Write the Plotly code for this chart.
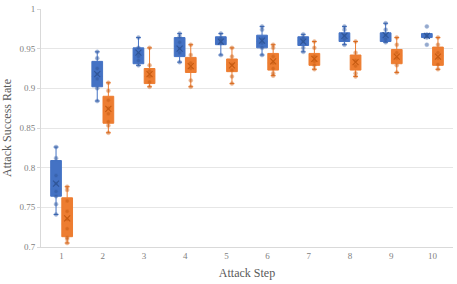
import plotly.graph_objects as go

steps = [1, 2, 3, 4, 5, 6, 7, 8, 9, 10]
tick_vals = [0.7, 0.75, 0.8, 0.85, 0.9, 0.95, 1.0]
tick_text = ["0.7", "0.75", "0.8", "0.85", "0.9", "0.95", "1"]

blue_q1 = [0.764, 0.902, 0.931, 0.940, 0.955, 0.951, 0.954, 0.959, 0.959, 0.964]
blue_median = [0.773, 0.915, 0.942, 0.953, 0.960, 0.959, 0.960, 0.965, 0.965, 0.966]
blue_q3 = [0.809, 0.934, 0.951, 0.964, 0.965, 0.967, 0.965, 0.970, 0.970, 0.969]
blue_low = [0.741, 0.884, 0.929, 0.933, 0.942, 0.942, 0.946, 0.955, 0.958, 0.964]
blue_high = [0.826, 0.946, 0.964, 0.969, 0.969, 0.978, 0.968, 0.978, 0.982, 0.969]
blue_mean = [0.780, 0.918, 0.945, 0.950, 0.959, 0.960, 0.959, 0.966, 0.967, 0.966]
blue_points = [
    [0.826, 0.812, 0.790, 0.780, 0.770, 0.764, 0.754, 0.741],
    [0.946, 0.938, 0.925, 0.918, 0.912, 0.900, 0.884],
    [0.964, 0.951, 0.944, 0.940, 0.935, 0.929],
    [0.969, 0.965, 0.958, 0.950, 0.945, 0.933],
    [0.969, 0.963, 0.960, 0.957, 0.942],
    [0.978, 0.974, 0.962, 0.957, 0.951, 0.942],
    [0.968, 0.963, 0.959, 0.951, 0.946],
    [0.978, 0.974, 0.967, 0.962, 0.955],
    [0.982, 0.974, 0.967, 0.962, 0.958],
    [0.978, 0.968, 0.966, 0.964, 0.955],
]

orange_q1 = [0.713, 0.856, 0.906, 0.920, 0.921, 0.923, 0.929, 0.923, 0.931, 0.929]
orange_median = [0.729, 0.872, 0.915, 0.926, 0.930, 0.932, 0.936, 0.932, 0.941, 0.941]
orange_q3 = [0.762, 0.890, 0.925, 0.939, 0.937, 0.944, 0.944, 0.942, 0.949, 0.952]
orange_low = [0.705, 0.844, 0.902, 0.902, 0.906, 0.916, 0.924, 0.915, 0.920, 0.924]
orange_high = [0.776, 0.907, 0.951, 0.955, 0.951, 0.955, 0.959, 0.959, 0.964, 0.964]
orange_mean = [0.736, 0.874, 0.918, 0.928, 0.929, 0.934, 0.937, 0.933, 0.940, 0.940]
orange_points = [
    [0.776, 0.772, 0.758, 0.745, 0.735, 0.723, 0.712, 0.710, 0.705],
    [0.907, 0.897, 0.885, 0.875, 0.868, 0.858, 0.853, 0.844],
    [0.951, 0.929, 0.922, 0.915, 0.908, 0.902],
    [0.955, 0.942, 0.932, 0.925, 0.910, 0.902],
    [0.951, 0.940, 0.930, 0.923, 0.915, 0.906],
    [0.955, 0.951, 0.940, 0.932, 0.925, 0.919, 0.916],
    [0.959, 0.951, 0.940, 0.934, 0.929, 0.924],
    [0.959, 0.945, 0.935, 0.928, 0.919, 0.915],
    [0.964, 0.955, 0.945, 0.938, 0.929, 0.920],
    [0.964, 0.955, 0.945, 0.938, 0.930, 0.924],
]

OFFSET = 0.135
BOXW = 0.26
series = [
    ("blue", -OFFSET, "#4472C4", "#2F5597", blue_q1, blue_median, blue_q3, blue_low, blue_high, blue_mean, blue_points),
    ("orange", OFFSET, "#ED7D31", "#C55A11", orange_q1, orange_median, orange_q3, orange_low, orange_high, orange_mean, orange_points),
]

fig = go.Figure()
for name, off, col, dark, q1, med, q3, lo, hi, mean, pts in series:
    xs = [s + off for s in steps]
    fig.add_trace(go.Box(
        x=xs, q1=q1, median=med, q3=q3, lowerfence=lo, upperfence=hi,
        width=BOXW, fillcolor=col, line=dict(color=col, width=1),
        whiskerwidth=0.45, boxpoints=False, showlegend=False, name=name,
    ))
    px, py = [], []
    for s, p in zip(steps, pts):
        px += [s + off] * len(p)
        py += p
    fig.add_trace(go.Scatter(
        x=px, y=py, mode="markers", showlegend=False,
        marker=dict(symbol="circle", size=4, color=dark, opacity=0.5,
                    line=dict(color=col, width=0.5)),
    ))
    fig.add_trace(go.Scatter(
        x=xs, y=mean, mode="markers", showlegend=False,
        marker=dict(symbol="x-thin", size=6, line=dict(color=dark, width=1.1), color=dark),
    ))

font_fam = "'Liberation Serif', 'Times New Roman', serif"
tick_font = dict(family=font_fam, size=9, color="#808080")
title_font = dict(family=font_fam, size=12, color="#595959")
fig.update_layout(
    width=457, height=284,
    margin=dict(l=41, r=4, t=5, b=37),
    paper_bgcolor="white", plot_bgcolor="white",
    font=dict(family=font_fam, color="#595959", size=9),
    xaxis=dict(
        range=[0.5, 10.5], tickmode="array", tickvals=steps,
        ticktext=[str(s) for s in steps], showgrid=False, zeroline=False,
        showline=True, linecolor="#D9D9D9", linewidth=1, ticks="",
        tickfont=tick_font,
        title=dict(text="Attack Step", font=title_font, standoff=8),
    ),
    yaxis=dict(
        range=[0.7, 1.0], tickmode="array", tickvals=tick_vals, ticktext=tick_text,
        showgrid=True, gridcolor="#E6E6E6", gridwidth=1, zeroline=False,
        showline=True, linecolor="#D9D9D9", linewidth=1,
        ticks="outside", ticklen=3, tickcolor="#D9D9D9",
        tickfont=tick_font,
        title=dict(text="Attack Success Rate", font=title_font, standoff=6),
    ),
)

fig.write_html("out.html", config={"displayModeBar": False},
               post_script="document.body.style.margin='0';document.body.style.overflow='hidden';")
